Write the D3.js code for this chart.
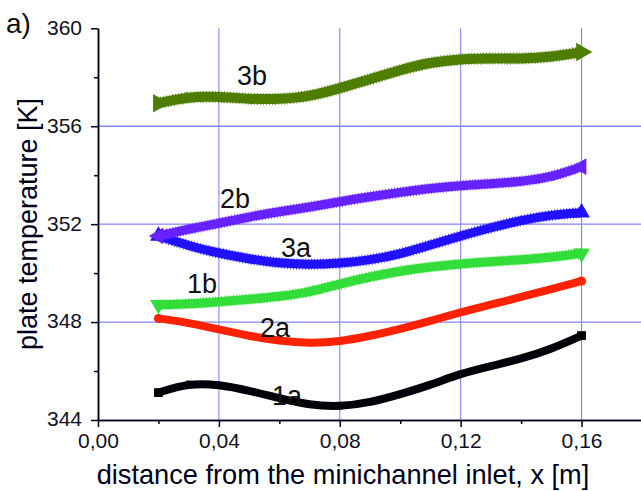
<!DOCTYPE html>
<html>
<head>
<meta charset="utf-8">
<script src="https://cdn.jsdelivr.net/npm/d3@7"></script>
<style>
  html, body { margin: 0; padding: 0; background: #ffffff; }
  svg { display: block; }
  text { font-family: "Liberation Sans", Arial, sans-serif; }
</style>
</head>
<body>
<svg id="chart" width="641" height="491"></svg>
<script>
// ---- data ----
const xPos = [0.02, 0.03, 0.04, 0.05, 0.06, 0.07, 0.08, 0.09, 0.10, 0.11, 0.12, 0.13, 0.14, 0.15, 0.16];
const s1a = [345.12, 345.50, 345.45, 345.20, 344.89, 344.61, 344.54, 344.71, 345.05, 345.43, 345.90, 346.20, 346.50, 346.90, 347.45];
const s2a = [348.15, 347.97, 347.70, 347.43, 347.23, 347.13, 347.20, 347.43, 347.72, 348.05, 348.40, 348.72, 349.02, 349.35, 349.68];
const s3a = [351.52, 351.11, 350.81, 350.58, 350.40, 350.34, 350.40, 350.53, 350.78, 351.15, 351.52, 351.86, 352.16, 352.38, 352.47];
const s1b = [348.70, 348.74, 348.83, 348.93, 349.04, 349.22, 349.56, 349.85, 350.09, 350.26, 350.38, 350.47, 350.54, 350.65, 350.81];
const s2b = [351.52, 351.80, 352.03, 352.30, 352.51, 352.69, 352.92, 353.12, 353.30, 353.46, 353.58, 353.65, 353.74, 353.92, 354.35];
const s3b = [356.94, 357.21, 357.21, 357.11, 357.10, 357.21, 357.55, 357.92, 358.30, 358.61, 358.75, 358.77, 358.75, 358.83, 359.03];
const seriesNames = ["1a", "2a", "3a", "1b", "2b", "3b"];
const xTicks = [0.00, 0.04, 0.08, 0.12, 0.16];
const xMinor = [0.02, 0.06, 0.10, 0.14];
const yTicks = [344, 348, 352, 356, 360];
const yMinor = [346, 350, 354, 358];
const xTitle = "distance from the minichannel inlet, x [m]";
const yTitle = "plate temperature [K]";
const panelLabel = "a)";

// ---- styling ----
const styles = {
  "1a": { color: "#000008", shape: "square", width: 8, label: [287, 405] },
  "2a": { color: "#ff2200", shape: "circle", width: 8, label: [275, 337] },
  "3a": { color: "#2211ff", shape: "up", width: 9, label: [296, 257] },
  "1b": { color: "#33dd3a", shape: "down", width: 9, label: [202, 293] },
  "2b": { color: "#6622ff", shape: "left", width: 9, label: [235, 208] },
  "3b": { color: "#4f7d00", shape: "right", width: 10, label: [252, 85] }
};
const values = { "1a": s1a, "2a": s2a, "3a": s3a, "1b": s1b, "2b": s2b, "3b": s3b };

const svg = d3.select("#chart");
const x = d3.scaleLinear().domain([0, 0.18]).range([98, 642]);
const y = d3.scaleLinear().domain([344, 360]).range([420, 28.3]);
const axisColor = "#000018";
const gridColor = "#8585ff";

// grid
svg.append("g").selectAll("line").data([348, 352, 356]).join("line")
  .attr("x1", x(0)).attr("x2", x(0.18))
  .attr("y1", d => y(d)).attr("y2", d => y(d))
  .attr("stroke", gridColor).attr("stroke-width", 1.3);
svg.append("g").selectAll("line").data([0.04, 0.08, 0.12, 0.16]).join("line")
  .attr("x1", d => x(d)).attr("x2", d => x(d))
  .attr("y1", y(360)).attr("y2", y(344))
  .attr("stroke", gridColor).attr("stroke-width", 1.1);

// axes
const fmt = d => d3.format(".2f")(d).replace(".", ",");
const gx = svg.append("g").attr("transform", `translate(0,${y(344)})`)
  .call(d3.axisBottom(x).tickValues(xTicks).tickFormat(fmt).tickSize(7).tickSizeOuter(0).tickPadding(6));
const gxm = svg.append("g").attr("transform", `translate(0,${y(344)})`)
  .call(d3.axisBottom(x).tickValues(xMinor).tickFormat("").tickSize(4).tickSizeOuter(0));
const gy = svg.append("g").attr("transform", `translate(${x(0)},0)`)
  .call(d3.axisLeft(y).tickValues(yTicks).tickSize(7).tickSizeOuter(0).tickPadding(9));
const gym = svg.append("g").attr("transform", `translate(${x(0)},0)`)
  .call(d3.axisLeft(y).tickValues(yMinor).tickFormat("").tickSize(4).tickSizeOuter(0));
[gx, gxm, gy, gym].forEach(g => {
  g.selectAll("path, line").attr("stroke", axisColor).attr("stroke-width", 1.5);
  g.selectAll("text").attr("fill", "#111122").attr("font-size", 21)
    .attr("font-family", "Liberation Sans, Arial, sans-serif");
});
gy.selectAll("text").attr("dy", "0.28em");

// series
const line = d3.line().x((d, i) => x(xPos[i])).y(d => y(d)).curve(d3.curveBasis);
const rot = { up: 0, down: 180, left: -90, right: 90 };
const order = ["1a", "2a", "3a", "1b", "2b", "3b"];
order.forEach(name => {
  const st = styles[name];
  const vals = values[name];
  const n = vals.length;
  const g = svg.append("g");
  g.append("path").datum(vals).attr("d", line)
    .attr("fill", "none").attr("stroke", st.color)
    .attr("stroke-width", st.width).attr("stroke-linejoin", "round");
  if (st.shape !== "square" && st.shape !== "circle") {
    g.append("path").datum(vals).attr("d", line)
      .attr("fill", "none").attr("stroke", st.color)
      .attr("stroke-width", st.width + 2).attr("stroke-dasharray", "1 2")
      .attr("opacity", 0.8);
  }
  const isEnd = i => (i === 0 || i === n - 1);
  const area = (i) => {
    if (st.shape === "square") return st.width * st.width * (isEnd(i) ? 1.2 : 0.45);
    if (st.shape === "circle") return st.width * st.width * (isEnd(i) ? 1.0 : 0.4);
    return st.width * st.width * (isEnd(i) ? 1.5 : 0.35);
  };
  const type = st.shape === "square" ? d3.symbolSquare : st.shape === "circle" ? d3.symbolCircle : d3.symbolTriangle;
  g.selectAll("path.mk").data(vals).join("path").attr("class", "mk")
    .attr("d", (d, i) => d3.symbol(type, area(i))())
    .attr("transform", (d, i) => `translate(${x(xPos[i])},${y(d)}) rotate(${rot[st.shape] || 0})`)
    .attr("fill", st.color);
});

// series labels
order.forEach(name => {
  const st = styles[name];
  svg.append("text").attr("x", st.label[0]).attr("y", st.label[1])
    .attr("text-anchor", "middle").attr("font-size", 27).attr("fill", "#111111")
    .text(name);
});

// titles
svg.append("text").attr("x", 343).attr("y", 484).attr("text-anchor", "middle")
  .attr("font-size", 27.2).attr("fill", "#000018").text(xTitle);
svg.append("text").attr("transform", `translate(37,224) rotate(-90)`)
  .attr("text-anchor", "middle").attr("font-size", 27).attr("fill", "#000018").text(yTitle);
svg.append("text").attr("x", 6).attr("y", 33).attr("font-size", 28).attr("fill", "#111111").text(panelLabel);
</script>
</body>
</html>
